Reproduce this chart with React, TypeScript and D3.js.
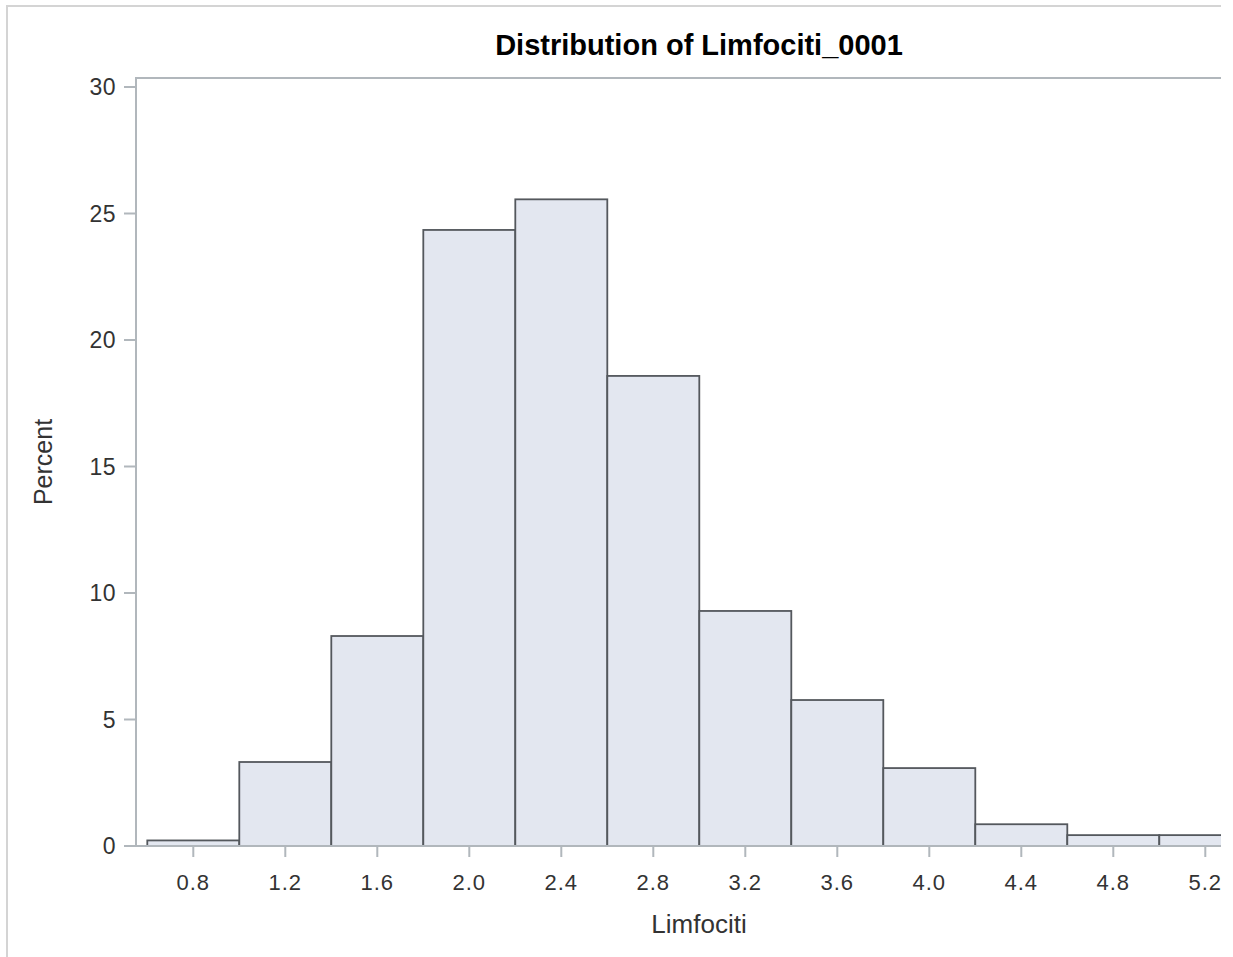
import React from "react";
import * as d3 from "d3";

const binLower = [0.6, 1.0, 1.4, 1.8, 2.2, 2.6, 3.0, 3.4, 3.8, 4.2, 4.6, 5.0];
const binWidth = 0.4;
const percents = [0.22, 3.32, 8.3, 24.35, 25.56, 18.58, 9.29, 5.77, 3.08, 0.86, 0.43, 0.43];
const xTicks = [0.8, 1.2, 1.6, 2.0, 2.4, 2.8, 3.2, 3.6, 4.0, 4.4, 4.8, 5.2];
const yTicks = [0, 5, 10, 15, 20, 25, 30];
const title = "Distribution of Limfociti_0001";
const xLabel = "Limfociti";
const yLabel = "Percent";

const W = 1233;
const H = 957;
const FONT = "'Liberation Sans', Arial, Helvetica, sans-serif";

export default function App() {
  const plotLeft = 136;
  const plotRight = 1262;
  const plotTop = 78;
  const plotBottom = 846;

  const x = d3.scaleLinear().domain([0.8, 5.2]).range([193.3, 1205.3]);
  const y = d3.scaleLinear().domain([0, 30]).range([846, 87]);

  const axisColor = "#b1b7bc";
  const barFill = "#e3e7f0";
  const barStroke = "#54585d";

  return (
    <div style={{ position: "absolute", left: 0, top: 0, width: W, height: H, background: "#fff" }}>
      <svg width={W} height={H} style={{ display: "block" }}>
        <defs>
          <clipPath id="imgclip">
            <rect x={0} y={0} width={1221} height={H} />
          </clipPath>
        </defs>
        <g clipPath="url(#imgclip)">
          <rect x={7} y={6} width={1400} height={1100} fill="#fff" stroke="#d4d4d4" strokeWidth={2} />
          <text x={(plotLeft + plotRight) / 2} y={55} textAnchor="middle" fontFamily={FONT} fontWeight="bold" fontSize={29} fill="#000">
            {title}
          </text>
          {binLower.map((lo, i) => (
            <rect
              key={i}
              x={x(lo)}
              y={y(percents[i])}
              width={x(lo + binWidth) - x(lo)}
              height={y(0) - y(percents[i])}
              fill={barFill}
              stroke={barStroke}
              strokeWidth={1.8}
            />
          ))}
          <path
            d={`M${plotLeft},${plotBottom} L${plotLeft},${plotTop} L${plotRight},${plotTop} L${plotRight},${plotBottom}`}
            fill="none"
            stroke={axisColor}
            strokeWidth={2}
          />
          <line x1={plotLeft} x2={plotRight} y1={plotBottom} y2={plotBottom} stroke={axisColor} strokeWidth={2} />
          {yTicks.map((t) => (
            <g key={t}>
              <line x1={plotLeft - 12} x2={plotLeft} y1={y(t)} y2={y(t)} stroke={axisColor} strokeWidth={2} />
              <text x={plotLeft - 20} y={y(t) + 8} textAnchor="end" fontFamily={FONT} fontSize={23} fill="#333" letterSpacing={0.5}>
                {t}
              </text>
            </g>
          ))}
          {xTicks.map((t) => (
            <g key={t}>
              <line x1={x(t)} x2={x(t)} y1={plotBottom} y2={plotBottom + 11} stroke={axisColor} strokeWidth={2} />
              <text x={x(t)} y={890} textAnchor="middle" fontFamily={FONT} fontSize={22} fill="#333" letterSpacing={1}>
                {t.toFixed(1)}
              </text>
            </g>
          ))}
          <text x={(plotLeft + plotRight) / 2} y={933} textAnchor="middle" fontFamily={FONT} fontSize={26} fill="#333">
            {xLabel}
          </text>
          <text
            transform={`translate(52, ${(plotTop + plotBottom) / 2}) rotate(-90)`}
            textAnchor="middle"
            fontFamily={FONT}
            fontSize={25}
            fill="#333"
          >
            {yLabel}
          </text>
        </g>
      </svg>
    </div>
  );
}
